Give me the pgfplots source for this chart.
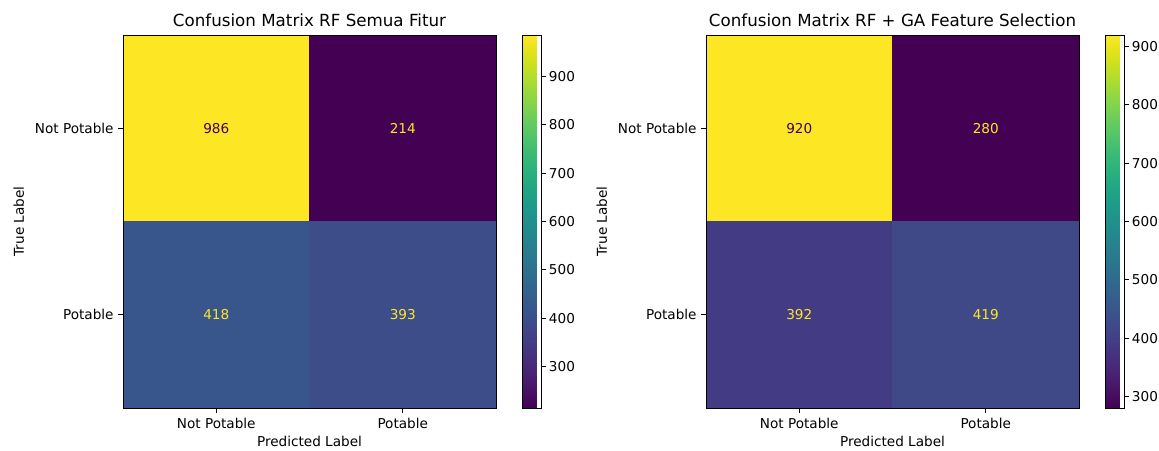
\documentclass[border=0pt]{standalone}
\usepackage{pgfplots}
\pgfplotsset{compat=1.18}
\usepackage{fontspec}
\setmainfont{DejaVu Sans}
\definecolor{vlo}{HTML}{440154}
\definecolor{vhi}{HTML}{FDE725}

\pgfplotstableread{
x y c
0 0 986
1 0 214
0 1 418
1 1 393
}\cmall
\pgfplotstableread{
x y c
0 0 920
1 0 280
0 1 392
1 1 419
}\cmga

\newcommand{\tickfont}{\fontsize{13.6}{15}\selectfont}

\pgfplotsset{
  cmaxis/.style={
    scale only axis, width=373pt, height=373pt,
    xmin=-0.5, xmax=1.5, ymin=-0.5, ymax=1.5, y dir=reverse,
    enlargelimits=false, axis on top,
    xtick={0,1}, ytick={0,1},
    xticklabels={Not Potable,Potable},
    yticklabels={Not Potable,Potable},
    tick pos=left,
    tick align=outside, major tick length=4.9pt,
    tick style={black, line width=0.9pt},
    axis line style={black, line width=0.9pt},
    font=\tickfont,
    xticklabel style={yshift=-2pt},
    yticklabel style={xshift=-1pt},
    title style={font=\fontsize{16.7}{19}\selectfont, yshift=-1pt},
    xlabel={Predicted Label}, ylabel={True Label},
    xlabel style={yshift=0pt},
    ylabel style={yshift=4pt},
    colormap name=viridis,
    colorbar,
    colorbar style={
      scale only axis, width=19pt, height=373pt,
      at={(parent axis.north east)}, anchor=north west, xshift=18pt,
      ytick={300,400,...,900}, ytick pos=right,
      tick align=outside, major tick length=4.9pt,
      tick style={black, line width=0.9pt},
      axis line style={black, line width=0.9pt},
      yticklabel style={font=\tickfont, xshift=-1pt},
      /pgf/number format/assume math mode=true,
    },
  },
}

\begin{document}
\begin{tikzpicture}
\useasboundingbox (0pt,0pt) rectangle (1159pt,450pt);

% left: all features
\begin{axis}[cmaxis, at={(123pt,42pt)}, anchor=south west,
  title={Confusion Matrix RF Semua Fitur},
  point meta min=214, point meta max=986]
  \addplot[matrix plot*, mesh/cols=2, point meta=explicit] table[meta=c] {\cmall};
  \node[text=vlo] at (axis cs:0,0) {986};
  \node[text=vhi] at (axis cs:1,0) {214};
  \node[text=vhi] at (axis cs:0,1) {418};
  \node[text=vhi] at (axis cs:1,1) {393};
\end{axis}

% right: GA-selected features
\begin{axis}[cmaxis, at={(706pt,42pt)}, anchor=south west,
  title={Confusion Matrix RF + GA Feature Selection},
  point meta min=280, point meta max=920]
  \addplot[matrix plot*, mesh/cols=2, point meta=explicit] table[meta=c] {\cmga};
  \node[text=vlo] at (axis cs:0,0) {920};
  \node[text=vhi] at (axis cs:1,0) {280};
  \node[text=vhi] at (axis cs:0,1) {392};
  \node[text=vhi] at (axis cs:1,1) {419};
\end{axis}
\end{tikzpicture}
\end{document}
